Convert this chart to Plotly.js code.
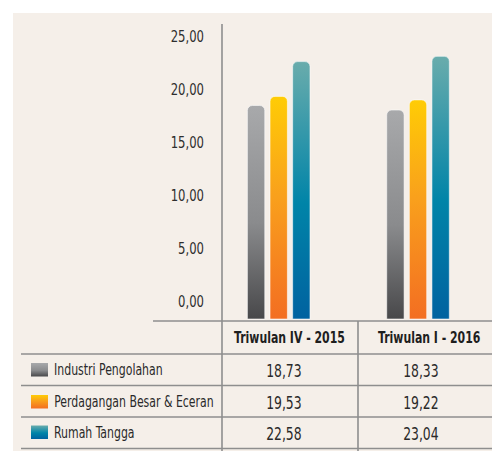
<!DOCTYPE html>
<html>
<head>
<meta charset="utf-8">
<script src="https://cdn.plot.ly/plotly-3.0.1.min.js"></script>
<style>
  html, body { margin: 0; padding: 0; background: #ffffff; }
  #chart { width: 492px; height: 451px; }
</style>
</head>
<body>
<div id="chart"></div>
<script>
// ---- data ----
const categories = ['Triwulan IV - 2015', 'Triwulan I - 2016'];
const seriesNames = ['Industri Pengolahan', 'Perdagangan Besar & Eceran', 'Rumah Tangga'];
const industriPengolahan = [18.73, 18.33];
const perdaganganBesarEceran = [19.53, 19.22];
const rumahTangga = [22.58, 23.04];
const tickValues = [0, 5, 10, 15, 20, 25];
const tickLabels = ['0,00', '5,00', '10,00', '15,00', '20,00', '25,00'];
const valueLabels = [
  ['18,73', '18,33'],
  ['19,53', '19,22'],
  ['22,58', '23,04']
];

// ---- styling ----
const W = 492, H = 451;
const FONT = '"DejaVu Sans Condensed", "DejaVu Sans", sans-serif';
const NARROW = 0.81;   // horizontal squeeze to imitate the condensed face
const LINE = '#8e8e8e';
const gradients = [
  [['0%', '#a8a9ab'], ['55%', '#8a8b8d'], ['100%', '#48484a']],
  [['0%', '#ffcc05'], ['45%', '#f9a01c'], ['100%', '#f36e22']],
  [['0%', '#69acac'], ['55%', '#0084a8'], ['100%', '#0062a0']]
];
const solid = ['#88898b', '#f8981d', '#1683a6'];

const X = px => px / W;
const Y = py => 1 - py / H;

const allSeries = [industriPengolahan, perdaganganBesarEceran, rumahTangga];
const traces = allSeries.map((vals, i) => ({
  type: 'bar',
  x: categories,
  y: vals,
  name: seriesNames[i],
  marker: { color: solid[i], cornerradius: 5, line: { color: 'rgba(255,255,255,0.55)', width: 1 } },
  hoverinfo: 'skip'
}));
// helper trace so the label axis is drawn
traces.push({ type: 'scatter', x: categories, y: [null, null], yaxis: 'y2', mode: 'markers', showlegend: false, hoverinfo: 'skip' });

const shapes = [];
const line = (x0, y0, x1, y1) => shapes.push({
  type: 'line', xref: 'paper', yref: 'paper',
  x0: X(x0), y0: Y(y0), x1: X(x1), y1: Y(y1),
  line: { color: LINE, width: 1.6 }, layer: 'above'
});
// beige panel
shapes.push({ type: 'rect', xref: 'paper', yref: 'paper', x0: X(13), y0: Y(13), x1: 1, y1: 0,
  fillcolor: '#f5efe9', line: { width: 0 }, layer: 'below' });
line(222, 24, 222, 451);
line(153, 321, 492, 321);
line(358, 321, 358, 451);
[354, 385.5, 417, 448.5].forEach(y => line(21, y, 492, y));

const annotations = [];
const headerX = [289, 429];
categories.forEach((c, j) => annotations.push({
  xref: 'paper', yref: 'paper', x: X(headerX[j]), y: Y(338), text: '<b>' + c + '</b>',
  showarrow: false, xanchor: 'center', yanchor: 'middle',
  font: { family: FONT, size: 15, color: '#1e1e1e' }
}));
const rowY = [370, 401.5, 432.5];
const valX = [284, 421];
const iconTop = [363, 395, 425.5];
seriesNames.forEach((n, i) => {
  annotations.push({
    xref: 'paper', yref: 'paper', x: X(52), y: Y(rowY[i]), text: n,
    showarrow: false, xanchor: 'left', yanchor: 'middle',
    font: { family: FONT, size: 15, color: '#2a2a2a' }
  });
  valueLabels[i].forEach((v, j) => annotations.push({
    xref: 'paper', yref: 'paper', x: X(valX[j]), y: Y(rowY[i] + 1), text: v,
    showarrow: false, xanchor: 'center', yanchor: 'middle',
    font: { family: FONT, size: 17, color: '#2a2a2a' }
  }));
  shapes.push({ type: 'rect', xref: 'paper', yref: 'paper',
    x0: X(31), y0: Y(iconTop[i]), x1: X(48), y1: Y(iconTop[i] + 13.5),
    fillcolor: solid[i], line: { width: 0 }, layer: 'above', name: 'icon' + i });
});

const layout = {
  width: W, height: H,
  margin: { l: 0, r: 0, t: 0, b: 0 },
  paper_bgcolor: '#ffffff',
  plot_bgcolor: 'rgba(0,0,0,0)',
  showlegend: false,
  barmode: 'group',
  bargap: 0.513,
  bargroupgap: 0.233,
  xaxis: {
    domain: [X(222), 1], range: [-0.407, 1.531], type: 'category',
    showticklabels: false, showgrid: false, zeroline: false, showline: false, ticks: ''
  },
  yaxis: {
    domain: [Y(321), Y(24)], range: [-0.175, 25.88],
    showticklabels: false, showgrid: false, zeroline: false, showline: false, ticks: ''
  },
  yaxis2: {
    overlaying: 'y', side: 'left', domain: [Y(321), Y(24)], range: [-1.82, 26.2],
    tickvals: tickValues, ticktext: tickLabels, ticks: '', ticklabelstandoff: 17,
    showgrid: false, zeroline: false, showline: false,
    tickfont: { family: FONT, size: 16, color: '#2e2e2e' }
  },
  shapes: shapes,
  annotations: annotations
};

// squeeze a text horizontally around a pivot: 'left', 'center' or 'right'
function squeeze(el, pivot) {
  const bb = el.getBBox();
  const cx = pivot === 'right' ? bb.x + bb.width : pivot === 'center' ? bb.x + bb.width / 2 : bb.x;
  const prev = el.getAttribute('transform') || '';
  el.setAttribute('transform', prev + ' translate(' + cx + ',0) scale(' + NARROW + ',1) translate(' + (-cx) + ',0)');
}

Plotly.newPlot('chart', traces, layout, { staticPlot: true, displayModeBar: false }).then(gd => {
  const svg = gd.querySelector('svg.main-svg');
  const NS = 'http://www.w3.org/2000/svg';
  let defs = svg.querySelector('defs');
  if (!defs) { defs = document.createElementNS(NS, 'defs'); svg.insertBefore(defs, svg.firstChild); }
  gradients.forEach((stops, i) => {
    const g = document.createElementNS(NS, 'linearGradient');
    g.setAttribute('id', 'barGrad' + i);
    g.setAttribute('x1', '0'); g.setAttribute('y1', '0');
    g.setAttribute('x2', '0'); g.setAttribute('y2', '1');
    stops.forEach(([off, col]) => {
      const s = document.createElementNS(NS, 'stop');
      s.setAttribute('offset', off); s.setAttribute('stop-color', col);
      g.appendChild(s);
    });
    defs.appendChild(g);
  });
  gd.querySelectorAll('.barlayer .trace.bars').forEach((t, i) => {
    t.querySelectorAll('.point path').forEach(p => { p.style.fill = 'url(#barGrad' + i + ')'; });
  });
  gd.querySelectorAll('.shapelayer path').forEach(p => {
    const idx = +p.getAttribute('data-index');
    const sh = shapes[idx];
    if (sh && sh.name && sh.name.startsWith('icon')) {
      p.style.fill = 'url(#barGrad' + sh.name.slice(4) + ')';
    }
  });
  gd.querySelectorAll('.annotation').forEach(a => {
    const ann = annotations[+a.getAttribute('data-index')];
    const t = a.querySelector('.annotation-text');
    if (ann && t) squeeze(t, ann.xanchor === 'left' ? 'left' : 'center');
  });
  gd.querySelectorAll('.y2tick text').forEach(t => squeeze(t, 'right'));
});
</script>
</body>
</html>
